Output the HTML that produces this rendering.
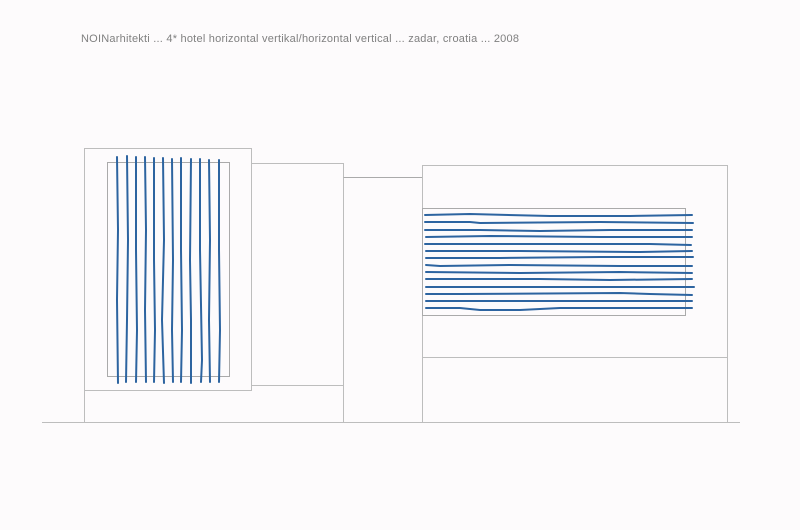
<!DOCTYPE html>
<html><head><meta charset="utf-8"><style>
html,body{margin:0;padding:0;background:#fdfbfc;}
svg{display:block}
text{font-family:"Liberation Sans",sans-serif;}
</style></head><body>
<svg width="800" height="530" viewBox="0 0 800 530" xmlns="http://www.w3.org/2000/svg">
<rect width="800" height="530" fill="#fdfbfc"/>
<text x="81" y="42" font-size="11" fill="#808080" textLength="438" lengthAdjust="spacing">NOINarhitekti ... 4* hotel horizontal vertikal/horizontal vertical ... zadar, croatia ... 2008</text>
<g fill="none" stroke="#bdbdbd" stroke-width="1">
<line x1="42" y1="422.5" x2="740" y2="422.5"/>
<rect x="84.5" y="148.5" width="167" height="242"/>
<rect x="107.5" y="162.5" width="122" height="214" stroke="#aaa"/>
<polyline points="251.5,163.5 343.5,163.5 343.5,422"/>
<line x1="251.5" y1="385.5" x2="343.5" y2="385.5"/>
<line x1="84.5" y1="390" x2="84.5" y2="422"/>
<line x1="343.5" y1="177.5" x2="422.5" y2="177.5" stroke="#aaa"/>
<rect x="422.5" y="165.5" width="305" height="257"/>
<line x1="422.5" y1="357.5" x2="727.5" y2="357.5"/>
<rect x="422.5" y="208.5" width="263" height="107" stroke="#aaa"/>
</g>
<g fill="none" stroke="#2d64a0" stroke-width="2" stroke-linecap="round">
<path d="M117,157 L118,230 L117,300 L118,383"/>
<path d="M127,156 L128,240 L127,320 L126,382"/>
<path d="M136,157 L136,250 L137,330 L136,382"/>
<path d="M145,157 L146,230 L145,310 L146,382"/>
<path d="M154,158 L154,260 L155,330 L154,382"/>
<path d="M163,158 L164,240 L162,320 L164,383"/>
<path d="M172,159 L173,260 L172,330 L173,382"/>
<path d="M181,158 L181,250 L182,330 L181,382"/>
<path d="M191,159 L190,260 L191,320 L191,383"/>
<path d="M200,159 L200,250 L202,360 L201,382"/>
<path d="M209,160 L210,240 L209,320 L210,382"/>
<path d="M219,160 L219,250 L220,330 L219,382"/>
</g>
<g fill="none" stroke="#2d64a0" stroke-width="2" stroke-linecap="round">
<path d="M425,215 L470,214 L550,216 L630,216 L692,215"/>
<path d="M425,222 L470,222 L480,223 L600,222 L693,223"/>
<path d="M425,230 L480,230 L540,231 L610,230 L692,230"/>
<path d="M426,237 L490,236 L600,237 L692,237"/>
<path d="M425,244 L520,244 L650,244 L691,245"/>
<path d="M426,251 L520,251 L640,252 L692,251"/>
<path d="M426,258 L500,258 L600,257 L693,257"/>
<path d="M426,265 L440,266 L510,265 L620,266 L692,266"/>
<path d="M426,272 L520,273 L620,272 L692,273"/>
<path d="M426,279 L540,279 L610,280 L692,279"/>
<path d="M426,287 L560,287 L694,287"/>
<path d="M426,294 L460,294 L620,293 L650,294 L692,295"/>
<path d="M426,301 L560,301 L692,301"/>
<path d="M426,308 L460,308 L480,310 L520,310 L560,308 L692,308"/>
</g>
</svg>
</body></html>
